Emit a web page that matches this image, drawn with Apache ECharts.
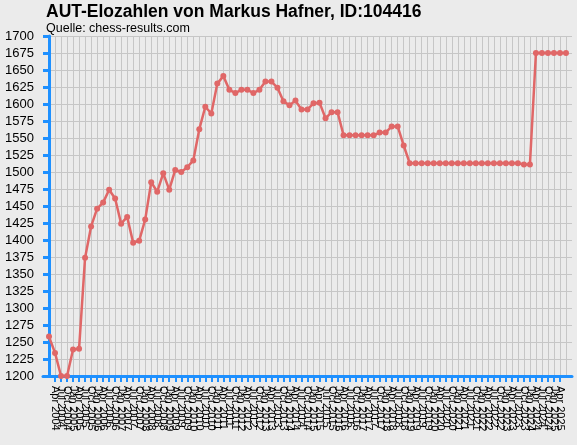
<!DOCTYPE html>
<html><head><meta charset="utf-8">
<script src="https://cdn.jsdelivr.net/npm/echarts@6/dist/echarts.min.js"></script>
<style>html,body{margin:0;padding:0;background:#ebebeb;}#c{width:577px;height:445px;}</style>
</head><body><div id="c"></div>
<script>
const titleText = "AUT-Elozahlen von Markus Hafner, ID:104416";
const subtitleText = "Quelle: chess-results.com";
const categories = [
"Jan 2004","Apr 2004","Jul 2004","Oct 2004","Jan 2005","Apr 2005","Jul 2005","Oct 2005",
"Jan 2006","Apr 2006","Jul 2006","Oct 2006","Jan 2007","Apr 2007","Jul 2007","Oct 2007",
"Jan 2008","Apr 2008","Jul 2008","Oct 2008","Jan 2009","Apr 2009","Jul 2009","Oct 2009",
"Jan 2010","Apr 2010","Jul 2010","Oct 2010","Jan 2011","Apr 2011","Jul 2011","Oct 2011",
"Jan 2012","Apr 2012","Jul 2012","Oct 2012","Jan 2013","Apr 2013","Jul 2013","Oct 2013",
"Jan 2014","Apr 2014","Jul 2014","Oct 2014","Jan 2015","Apr 2015","Jul 2015","Oct 2015",
"Jan 2016","Apr 2016","Jul 2016","Oct 2016","Jan 2017","Apr 2017","Jul 2017","Oct 2017",
"Jan 2018","Apr 2018","Jul 2018","Oct 2018","Jan 2019","Apr 2019","Jul 2019","Oct 2019",
"Jan 2020","Apr 2020","Jul 2020","Oct 2020","Jan 2021","Apr 2021","Jul 2021","Oct 2021",
"Jan 2022","Apr 2022","Jul 2022","Oct 2022","Jan 2023","Apr 2023","Jul 2023","Oct 2023",
"Jan 2024","Apr 2024","Jul 2024","Oct 2024","Jan 2025","Apr 2025","Jul 2025"
];
const elo = [
1258,1234,1200,1200,1239,1240,1374,1420,1446,1455,
1474,1461,1424,1434,1396,1399,1430,1485,1471,1498,
1474,1503,1500,1507,1517,1563,1596,1586,1630,1641,
1621,1616,1621,1621,1616,1621,1633,1633,1624,1604,
1598,1605,1592,1592,1601,1602,1579,1588,1588,1554,
1554,1554,1554,1554,1554,1558,1558,1567,1567,1539,
1513,1513,1513,1513,1513,1513,1513,1513,1513,1513,
1513,1513,1513,1513,1513,1513,1513,1513,1513,1511,
1511,1675,1675,1675,1675,1675,1675
];
const yMin = 1200, yMax = 1700, yStep = 25;

const idx = categories.map((_, i) => i);
const chart = echarts.init(document.getElementById('c'));
const FONT = 'Liberation Sans, Arial, sans-serif';
const BLUE = '#1e90ff';
chart.setOption({
  backgroundColor: '#ebebeb',
  animation: false,
  title: [{
    text: titleText, left: 46, top: 3, padding: 0,
    textStyle: {fontFamily: FONT, fontSize: 17.5, fontWeight: 'bold', color: '#000'}
  }, {
    text: subtitleText, left: 46, top: 22, padding: 0,
    textStyle: {fontFamily: FONT, fontSize: 12.5, fontWeight: 'normal', color: '#000'}
  }],
  grid: {left: 43, right: 5, top: 36, bottom: 69, containLabel: false},
  xAxis: {
    type: 'value', min: -1, max: categories.length, interval: 1,
    axisLine: {show: true, onZero: false, lineStyle: {color: BLUE, width: 3}},
    axisTick: {show: true, length: 6, customValues: idx, lineStyle: {color: BLUE, width: 2}},
    axisLabel: {
      customValues: idx, rotate: -90, margin: 10, hideOverlap: false,
      fontFamily: FONT, fontSize: 11, color: '#000',
      formatter: v => categories[v] || ''
    },
    splitLine: {show: true, lineStyle: {color: '#c6c6c6', width: 1}}
  },
  yAxis: {
    type: 'value', min: yMin, max: yMax, interval: yStep,
    axisLine: {show: true, lineStyle: {color: BLUE, width: 3}},
    axisTick: {show: true, length: 6, lineStyle: {color: BLUE, width: 3}},
    axisLabel: {fontFamily: FONT, fontSize: 13, color: '#000', margin: 9, formatter: v => String(v)},
    splitLine: {show: true, lineStyle: {color: '#c6c6c6', width: 1}}
  },
  series: [{
    type: 'line',
    data: elo.map((v, i) => [i, v]),
    symbol: 'circle', symbolSize: 6,
    lineStyle: {color: '#e06767', width: 2.5},
    itemStyle: {color: '#e06767'}
  }]
});
</script></body></html>
